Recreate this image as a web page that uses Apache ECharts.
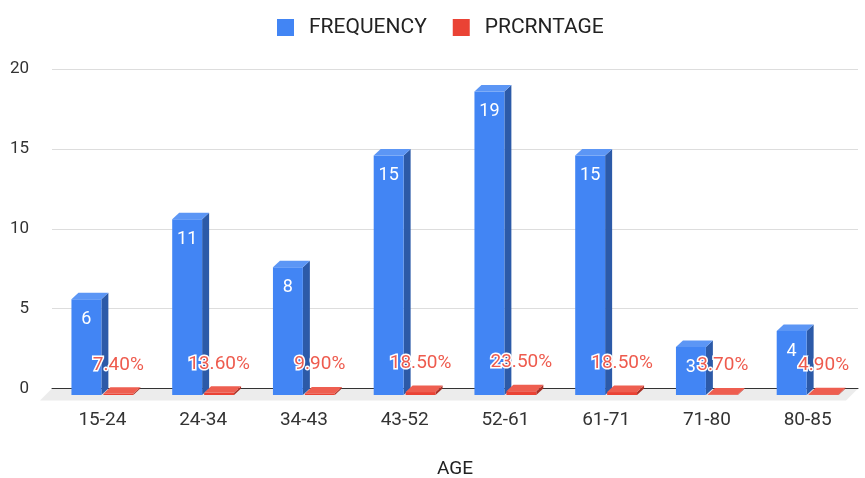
<!DOCTYPE html>
<html>
<head>
<meta charset="utf-8">
<script src="https://cdn.jsdelivr.net/npm/echarts@6/dist/echarts.min.js"></script>
<style>
  html, body { margin: 0; padding: 0; background: #ffffff; }
  #chart { width: 865px; height: 478px; }
</style>
</head>
<body>
<div id="chart"></div>
<script>
// Age groups and the two series drawn for each
const ageGroups = ['15-24', '24-34', '34-43', '43-52', '52-61', '61-71', '71-80', '80-85'];
const frequency = [6, 11, 8, 15, 19, 15, 3, 4];
const percentage = [0.074, 0.136, 0.099, 0.185, 0.235, 0.185, 0.037, 0.049];
const seriesNames = ['FREQUENCY', 'PRCRNTAGE'];
const yAxisMin = 0;
const yAxisMax = 20;
const yAxisStep = 5;

// Layout and 3D extrusion settings
const GRID = { left: 52, right: 7, top: 69, bottom: 89.5 };
const DEPTH_X = 7;      // horizontal shift from the front face to the back face
const DEPTH_Y = 6.5;    // vertical shift from the front face to the back face
const BAR_FRACTION = 0.297;
const BAR_GAP = 2;
const FONT = 'Roboto, "Liberation Sans", Arial, sans-serif';

const palette = {
  blue: { front: '#4285f4', side: '#2c5aa8', top: '#5c96f5', label: '#ffffff' },
  red:  { front: '#ea4335', side: '#a83026', top: '#ee5e50', label: '#ee5b4e' }
};

function formatPercent(v) {
  return (v * 100).toFixed(2) + '%';
}

// Draws one extruded bar: front, right side and top faces, plus its value label
function makeBarRenderer(colors, side, labelFor, labelOffset, labelSize, labelStroke) {
  return function (params, api) {
    const idx = api.value(0);
    const val = api.value(1);
    const base = api.coord([idx, 0]);
    const top = api.coord([idx, val]);
    const band = api.size([1, 0])[0];
    const w = band * BAR_FRACTION;
    const cx = base[0];
    const x0 = side < 0 ? cx - BAR_GAP / 2 - w : cx + BAR_GAP / 2;
    const x1 = x0 + w;
    const yB = base[1] + DEPTH_Y;   // front bottom
    const yT = top[1] + DEPTH_Y;    // front top
    const children = [
      {
        type: 'polygon',
        shape: { points: [[x1, yB], [x1 + DEPTH_X, yB - DEPTH_Y], [x1 + DEPTH_X, yT - DEPTH_Y], [x1, yT]] },
        style: { fill: colors.side }
      },
      {
        type: 'rect',
        shape: { x: x0, y: yT, width: w, height: Math.max(yB - yT, 0.5) },
        style: { fill: colors.front }
      },
      {
        type: 'polygon',
        shape: { points: [[x0, yT], [x0 + DEPTH_X, yT - DEPTH_Y], [x1 + DEPTH_X, yT - DEPTH_Y], [x1, yT]] },
        style: { fill: colors.top }
      }
    ];
    const textStyle = {
      text: labelFor(val),
      x: (x0 + x1) / 2,
      y: yT + labelOffset,
      fill: colors.label,
      font: labelSize + 'px ' + FONT,
      align: 'center',
      verticalAlign: 'middle'
    };
    if (labelStroke) {
      textStyle.stroke = '#ffffff';
      textStyle.lineWidth = 3;
    }
    children.push({ type: 'text', z2: 50, style: textStyle });
    return { type: 'group', children: children };
  };
}

const chart = echarts.init(document.getElementById('chart'), null, { renderer: 'canvas' });

const plotRight = 865 - GRID.right;
const baseY = 478 - GRID.bottom;
const floorDepth = 12;

chart.setOption({
  animation: false,
  backgroundColor: '#ffffff',
  textStyle: { fontFamily: FONT },
  legend: {
    top: 12,
    left: 272,
    itemWidth: 17,
    itemHeight: 17,
    itemGap: 26,
    icon: 'rect',
    data: seriesNames,
    textStyle: { fontSize: 21, color: '#222222', padding: [0, 0, 0, 10] }
  },
  graphic: [
    {
      type: 'polygon',
      z: -10,
      silent: true,
      shape: {
        points: [
          [GRID.left, baseY],
          [plotRight, baseY],
          [plotRight - floorDepth, baseY + floorDepth],
          [GRID.left - floorDepth, baseY + floorDepth]
        ]
      },
      style: { fill: '#ececec' }
    }
  ],
  grid: {
    left: GRID.left,
    right: GRID.right,
    top: GRID.top,
    bottom: GRID.bottom,
    containLabel: false,
    outerBoundsMode: 'none'
  },
  xAxis: {
    type: 'category',
    data: ageGroups,
    name: 'AGE',
    nameLocation: 'middle',
    nameGap: 71,
    nameTextStyle: { fontSize: 19, color: '#222222' },
    axisLine: { show: true, lineStyle: { color: '#333333', width: 1 } },
    axisTick: { show: false },
    axisLabel: { fontSize: 19, color: '#333333', margin: 22 }
  },
  yAxis: {
    type: 'value',
    min: yAxisMin,
    max: yAxisMax,
    interval: yAxisStep,
    axisLine: { show: false },
    axisTick: { show: false },
    axisLabel: { fontSize: 17, color: '#333333', margin: 23 },
    splitLine: { lineStyle: { color: '#dddddd', width: 1 } }
  },
  series: [
    {
      name: seriesNames[0],
      type: 'custom',
      color: palette.blue.front,
      renderItem: makeBarRenderer(palette.blue, -1, v => String(v), 20, 18, false),
      encode: { x: 0, y: 1 },
      data: frequency.map((v, i) => [i, v]),
      z: 2
    },
    {
      name: seriesNames[1],
      type: 'custom',
      color: palette.red.front,
      renderItem: makeBarRenderer(palette.red, 1, formatPercent, -29, 19, true),
      encode: { x: 0, y: 1 },
      data: percentage.map((v, i) => [i, v]),
      z: 3
    }
  ]
});
</script>
</body>
</html>
